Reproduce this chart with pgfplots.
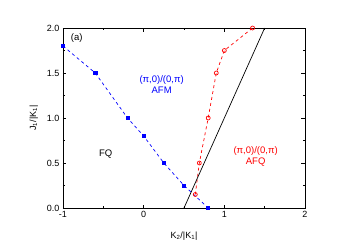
\documentclass[border=0pt]{standalone}
\usepackage{fontspec}
\setmainfont{Liberation Sans}
\usepackage{pgfplots}
\pgfplotsset{compat=1.18}
\begin{document}
\begin{tikzpicture}[x=1pt,y=1pt]
\path[use as bounding box] (-63,-42) rectangle (291,208);
\begin{axis}[
  at={(0,0)}, anchor=south west,
  scale only axis, width=242pt, height=180pt,
  xmin=-1, xmax=2, ymin=0, ymax=2,
  xtick={-1,0,1,2}, ytick={0,0.5,1,1.5,2},
  minor xtick={-0.5,0.5,1.5}, minor ytick={0.25,0.75,1.25,1.75},
  tick align=inside, major tick length=3.5pt, minor tick length=2pt,
  tick style={black, line width=0.6pt},
  axis line style={line width=0.8pt},
  font=\fontsize{9}{10}\selectfont,
  /pgf/number format/assume math mode=true,
  yticklabel style={/pgf/number format/fixed, /pgf/number format/fixed zerofill, /pgf/number format/precision=1},
  xticklabels={-1,0,1,2},
  xlabel={K\textsubscript{2}/|K\textsubscript{1}|},
  ylabel={J\textsubscript{1}/|K\textsubscript{1}|},
  xlabel style={yshift=-7pt},
  ylabel style={yshift=2pt},
  clip=false,
]
\addplot[blue, dashed, line width=0.7pt, mark=square*, mark size=1.6pt, mark options={solid}]
  coordinates {(-1,1.8) (-0.6,1.5) (-0.2,1.0) (0,0.8) (0.25,0.5) (0.5,0.25) (0.8,0)};
\addplot[red, dashed, line width=0.7pt, mark=o, mark size=2pt, mark options={solid, fill=white}]
  coordinates {(0.64,0.15) (0.69,0.5) (0.8,1.0) (0.9,1.5) (1.0,1.75) (1.35,2.0)};
\addplot[black, line width=0.7pt] coordinates {(0.5,0) (1.5,2)};
\node[font=\fontsize{9.5}{10}\selectfont] at (axis cs:-0.83,1.89) {(a)};
\node[font=\fontsize{9.5}{10}\selectfont] at (axis cs:-0.47,0.6) {FQ};
\node[blue, font=\fontsize{9.5}{11}\selectfont, align=center] at (axis cs:0.223,1.372) {(π,0)/(0,π)\\AFM};
\node[red, font=\fontsize{9.5}{11}\selectfont, align=center] at (axis cs:1.388,0.578) {(π,0)/(0,π)\\AFQ};
\end{axis}
\end{tikzpicture}
\end{document}
